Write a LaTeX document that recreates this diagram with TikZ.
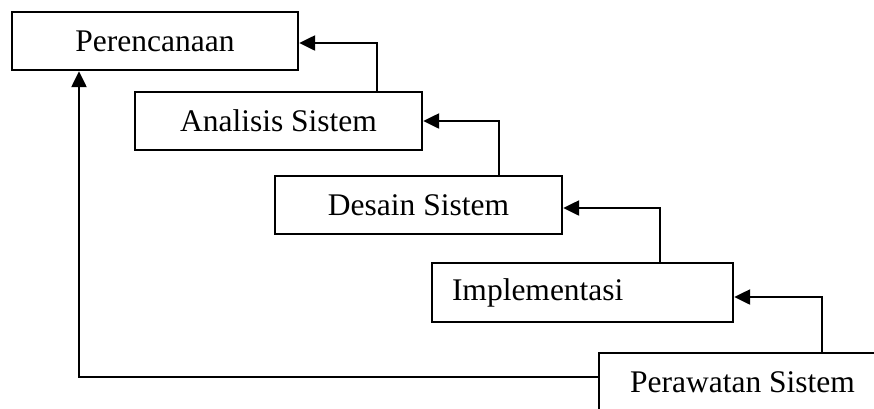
\documentclass[tikz,border=0pt]{standalone}
\usepackage{fontspec}
\setmainfont{Liberation Serif}
\usetikzlibrary{arrows.meta}
\begin{document}
\begin{tikzpicture}[x=1pt,y=-1pt,
  stagebox/.style={draw,line width=2.4pt,minimum height=58pt,inner sep=0pt,
    font=\fontsize{31.5}{36}\selectfont},
  flow/.style={line width=2.4pt,-{Triangle[length=16pt,width=15pt]}}]
\useasboundingbox (0,0) rectangle (874,408);
\node[stagebox,minimum width=286pt] (P) at (155,41) {Perencanaan};
\node[stagebox,minimum width=287pt] (A) at (278.5,121) {Analisis Sistem};
\node[stagebox,minimum width=287pt] (D) at (418.5,205) {Desain Sistem};
\node[stagebox,minimum width=301pt,minimum height=59pt,text width=261pt,align=left,inner xsep=20pt] (I) at (582.5,292.5) {Implementasi};
\node[stagebox,minimum width=287pt] (W) at (742.5,382) {Perawatan Sistem};
\draw[flow] ([xshift=98.5pt]A.north) |- ([yshift=-2pt]P.east);
\draw[flow] ([xshift=80.5pt]D.north) |- (A.east);
\draw[flow] ([xshift=77.5pt]I.north) |- ([yshift=-3pt]D.east);
\draw[flow] ([xshift=79.5pt]W.north) |- ([yshift=-4.5pt]I.east);
\draw[flow] ([yshift=5pt]W.west) -| ([xshift=-76pt]P.south);
\end{tikzpicture}
\end{document}
